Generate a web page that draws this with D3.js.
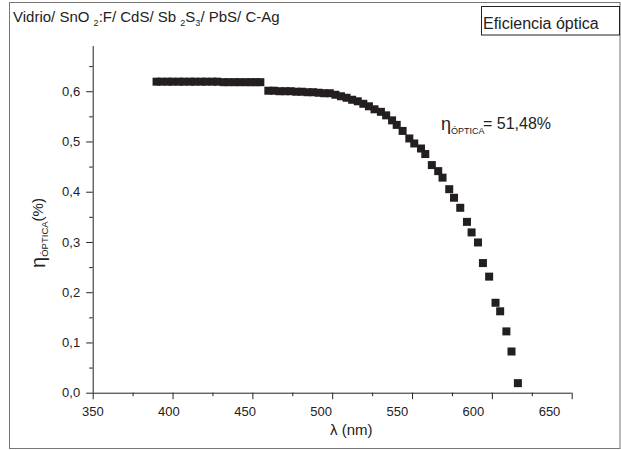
<!DOCTYPE html>
<html>
<head>
<meta charset="utf-8">
<script src="https://cdn.jsdelivr.net/npm/d3@7"></script>
<style>
  html, body { margin: 0; padding: 0; background: #fff; }
  svg { display: block; font-family: "Liberation Sans", Arial, sans-serif; }
</style>
</head>
<body>
<svg id="chart" width="621" height="450"></svg>
<script>
// ---- data ----
const wavelengths = [
  390, 393, 397, 400, 404, 407, 411, 414, 418, 421, 425, 428, 432, 435, 439, 442, 446, 449, 452, 455,
  460, 463.5, 467, 470.5, 474, 477.5, 481, 484.5, 488, 491.5, 495, 498.5, 502, 505.5, 509, 512.5, 516, 519.5, 523, 526.5,
  530.5, 533.8, 537.5, 540.4, 544.1, 548.3, 551.4, 555.6, 558.3, 562.4, 566.4, 569.1, 573.3, 576.3, 580.2,
  584.4, 587.3, 591.3, 594.4, 598.3, 602.3, 605.2, 609.1, 612.3, 616.3
];
const efficiency = [
  0.619, 0.619, 0.619, 0.619, 0.619, 0.619, 0.619, 0.619, 0.619, 0.619, 0.619, 0.619, 0.618, 0.618, 0.618, 0.618, 0.618, 0.618, 0.618, 0.618,
  0.601, 0.601, 0.600, 0.600, 0.600, 0.599, 0.599, 0.598, 0.598, 0.597, 0.596, 0.596, 0.593, 0.590, 0.587, 0.583, 0.580, 0.575, 0.570, 0.564,
  0.559, 0.552, 0.542, 0.533, 0.521, 0.506, 0.496, 0.486, 0.475, 0.453, 0.441, 0.428, 0.405, 0.388, 0.368,
  0.340, 0.319, 0.299, 0.258, 0.231, 0.179, 0.162, 0.122, 0.082, 0.019
];
const xTicks = [350, 400, 450, 500, 550, 600, 650];
const xTickLabels = ["350", "400", "450", "500", "550", "600", "650"];
const yTicks = [0, 0.1, 0.2, 0.3, 0.4, 0.5, 0.6];
const yTickLabels = ["0,0", "0,1", "0,2", "0,3", "0,4", "0,5", "0,6"];
const titleText = ["Vidrio/ SnO ", "2", ":F/ CdS/ Sb ", "2", "S", "3", "/ PbS/ C-Ag"];
const legendText = "Eficiencia óptica";
const annotationValue = "= 51,48%";

// ---- layout ----
const svg = d3.select("#chart");
const x = d3.scaleLinear().domain([350, 650]).range([92.7, 571.7]);
const y = d3.scaleLinear().domain([0, 0.69]).range([392.7, 46]);
// tick labels in the reference sit slightly compressed toward the left
const xLabelPos = d3.scaleLinear().domain([350, 650]).range([92.3, 549]);

// outer frame
svg.append("rect").attr("x", 9.5).attr("y", 2.5).attr("width", 610.5).attr("height", 446)
  .attr("fill", "none").attr("stroke", "#777").attr("stroke-width", 1);

// title
const title = svg.append("text").attr("x", 13).attr("y", 22).attr("font-size", 15).attr("fill", "#222");
titleText.forEach((t, i) => {
  const sub = (t === "2" || t === "3");
  title.append("tspan").text(t)
    .attr("font-size", sub ? 9 : 15)
    .attr("dy", sub ? 4 : (i > 0 ? -4 : 0));
});

// legend box
svg.append("rect").attr("x", 481.5).attr("y", 6.5).attr("width", 138).attr("height", 28.5)
  .attr("fill", "#fff").attr("stroke", "#222").attr("stroke-width", 1);
svg.append("text").attr("x", 483).attr("y", 28.5).attr("font-size", 16).attr("fill", "#222").text(legendText);

// axes
const xAxis = d3.axisBottom(x).tickValues(xTicks).tickSize(6.5)
  .tickFormat((d, i) => xTickLabels[i]);
const gx = svg.append("g").attr("transform", `translate(0,${y(0)})`).call(xAxis);
gx.selectAll(".tick text").attr("x", d => xLabelPos(d) - x(d)).attr("dy", "1.05em");
const xMinor = d3.axisBottom(x).tickValues([375, 425, 475, 525, 575, 625]).tickSize(3.5).tickFormat("");
svg.append("g").attr("transform", `translate(0,${y(0)})`).call(xMinor).select(".domain").remove();

const yAxis = d3.axisLeft(y).tickValues(yTicks).tickSize(6.5)
  .tickFormat((d, i) => yTickLabels[i]);
const gy = svg.append("g").attr("transform", `translate(${x(350)},0)`).call(yAxis);
gy.selectAll(".tick text").attr("x", -12.5);
const yMinor = d3.axisLeft(y).tickValues([0.05, 0.15, 0.25, 0.35, 0.45, 0.55, 0.65]).tickSize(3.5).tickFormat("");
svg.append("g").attr("transform", `translate(${x(350)},0)`).call(yMinor).select(".domain").remove();

svg.selectAll(".domain, .tick line").attr("stroke", "#222");
svg.selectAll(".tick text").attr("font-size", 13).attr("fill", "#222")
  .attr("font-family", '"Liberation Sans", Arial, sans-serif');
// y-axis domain without end caps
gy.select(".domain").attr("d", `M0.5,${y(0.69)}V${y(0)}`);
gx.select(".domain").attr("d", `M${x(350)},0.5H${x(650)}`);
gx.selectAll(".tick line").attr("transform", "translate(0,0)");

// axis titles
svg.append("text").attr("x", 330).attr("y", 435).attr("font-size", 15).attr("fill", "#222").text("λ (nm)");
const yl = svg.append("text").attr("transform", "translate(45,233) rotate(-90)")
  .attr("text-anchor", "middle").attr("fill", "#222");
yl.append("tspan").attr("font-size", 20).text("η");
yl.append("tspan").attr("font-size", 9.5).attr("dy", 3).text("ÓPTICA");
yl.append("tspan").attr("font-size", 15).attr("dy", -5).text("(%)");

// data markers
const pts = wavelengths.map((w, i) => ({ w, v: efficiency[i] }));
svg.append("g").selectAll("rect").data(pts).join("rect")
  .attr("x", d => x(d.w) - 4).attr("y", d => y(d.v) - 4)
  .attr("width", 8).attr("height", 8).attr("fill", "#231f20");

// annotation
const ann = svg.append("text").attr("x", 441).attr("y", 130).attr("fill", "#222");
ann.append("tspan").attr("font-size", 18).text("η");
ann.append("tspan").attr("font-size", 9).attr("dy", 4).text("ÓPTICA");
ann.append("tspan").attr("font-size", 16).attr("dy", -5.5).attr("dx", -1.5).text(annotationValue);
</script>
</body>
</html>
